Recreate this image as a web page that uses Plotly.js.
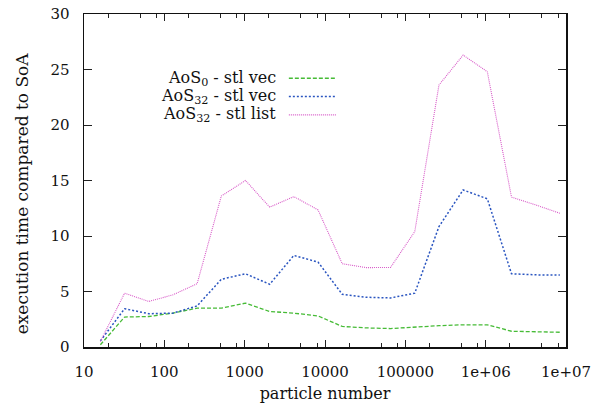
<!DOCTYPE html>
<html>
<head>
<meta charset="utf-8">
<script src="https://cdn.plot.ly/plotly-3.0.1.min.js"></script>
<style>
html,body{margin:0;padding:0;background:#fff;}
#chart{width:606px;height:403px;}
</style>
</head>
<body>
<div id="chart"></div>
<script>
// particle numbers (x)
const particles = [16,32,64,128,256,512,1024,2048,4096,8192,16384,32768,65536,131072,262144,524288,1048576,2097152,4194304,8388608];
// execution time relative to SoA
const aos0Vec  = [0.2,2.7,2.75,3.05,3.5,3.5,3.95,3.2,3.05,2.8,1.85,1.72,1.66,1.8,1.92,2.0,2.0,1.42,1.36,1.33];
const aos32Vec = [0.55,3.45,3.0,3.05,3.7,6.1,6.6,5.65,8.25,7.65,4.75,4.48,4.42,4.85,10.85,14.15,13.35,6.6,6.5,6.48];
const aos32List= [0.5,4.85,4.1,4.7,5.7,13.6,15.0,12.6,13.55,12.35,7.5,7.15,7.17,10.4,23.6,26.3,24.8,13.5,12.8,12.05];
const seriesNames = ['AoS<sub>0</sub> - stl vec','AoS<sub>32</sub> - stl vec','AoS<sub>32</sub> - stl list'];
const xTickVals = [10,100,1000,10000,100000,1000000,10000000];
const xTickText = ['10','100','1000','10000','100000','1e+06','1e+07'];
const yTickVals = [0,5,10,15,20,25,30];
const xTitle = 'particle number';
const yTitle = 'execution time compared to SoA';

const colors = ['#46bb36','#2a55c0','#d85ac8'];
const dashes = ['4px,2px','2px,2px','1px,1px'];
const widths = [1.3,1.5,1.1];
const ys = [aos0Vec, aos32Vec, aos32List];

const traces = ys.map((y,i)=>({
  x: particles, y: y, type:'scatter', mode:'lines', name: seriesNames[i],
  line:{color:colors[i], dash:dashes[i], width:widths[i]}, showlegend:false
}));

// minor log ticks (2,5,8 per decade as in the reference)
const minorVals = [];
for (let d=10; d<1e7; d*=10) { minorVals.push(2*d,5*d,8*d); }

const FONT = 'DejaVu Serif';

// legend drawn as right-aligned text with sample lines to the right
const legY = [0.807,0.752,0.697];
const annotations = seriesNames.map((n,i)=>({
  xref:'paper', yref:'paper', x:0.402, y:legY[i], xanchor:'right', yanchor:'middle',
  text:n, showarrow:false, font:{family:FONT, size:16, color:'#111'}
}));
// y-axis title (placed as in the reference, slightly below the plot centre)
annotations.push({
  xref:'paper', yref:'paper', x:-0.127, y:0.461, xanchor:'center', yanchor:'middle',
  text:yTitle, textangle:-90, showarrow:false, font:{family:FONT, size:17, color:'#111'}
});
const shapes = seriesNames.map((n,i)=>({
  type:'line', xref:'paper', yref:'paper', x0:0.425, x1:0.524, y0:legY[i], y1:legY[i],
  line:{color:colors[i], dash:dashes[i], width:widths[i]}
}));

const layout = {
  width:606, height:403,
  margin:{l:84, r:40, t:14, b:56, pad:0},
  paper_bgcolor:'#fff', plot_bgcolor:'#fff',
  font:{family:FONT, size:15, color:'#111'},
  xaxis:{
    type:'log', range:[1,7],
    tickmode:'array', tickvals:xTickVals, ticktext:xTickText,
    ticks:'inside', ticklen:7, tickwidth:1, tickcolor:'#222',
    minor:{tickmode:'array', tickvals:minorVals, ticks:'inside', ticklen:4, tickwidth:1, tickcolor:'#222', showgrid:false},
    showline:true, linecolor:'#111', linewidth:1.5, mirror:'allticks',
    showgrid:false, zeroline:false,
    ticklabelstandoff:10,
    tickfont:{family:FONT, size:15, color:'#111'},
    title:{text:xTitle, font:{family:FONT, size:16, color:'#111'}, standoff:12}
  },
  yaxis:{
    range:[0,30], tickmode:'array', tickvals:yTickVals,
    ticks:'inside', ticklen:8, tickwidth:1, tickcolor:'#222',
    showline:true, linecolor:'#111', linewidth:1.5, mirror:'allticks',
    showgrid:false, zeroline:false,
    ticklabelstandoff:10,
    tickfont:{family:FONT, size:15, color:'#111'}
  },
  annotations: annotations,
  shapes: shapes,
  showlegend:false
};

Plotly.newPlot('chart', traces, layout, {staticPlot:true, displayModeBar:false});
</script>
</body>
</html>
